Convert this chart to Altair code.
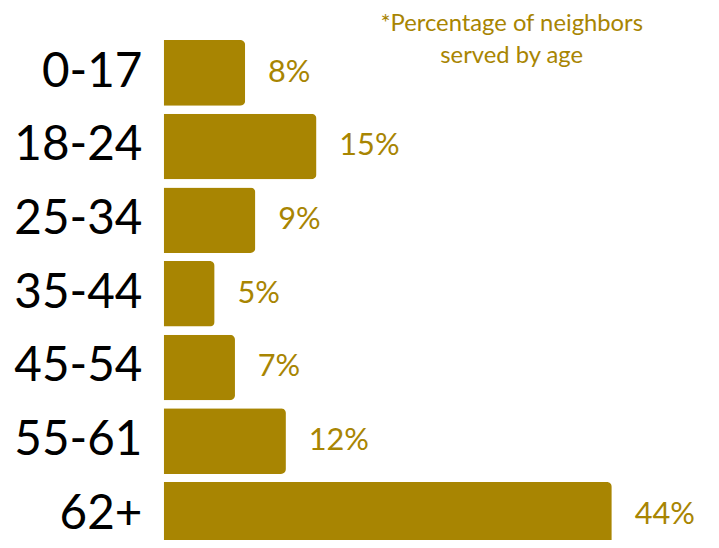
import altair as alt
import pandas as pd

ages = ["0-17", "18-24", "25-34", "35-44", "45-54", "55-61", "62+"]
percents = [8, 15, 9, 5, 7, 12, 44]
labels = [f"{p}%" for p in percents]
note = ["*Percentage of neighbors", "served by age"]

df = pd.DataFrame({"age": ages, "pct": percents, "label": labels})
gold = "#A88502"

y = alt.Y("age:N", sort=ages, title=None,
          scale=alt.Scale(paddingInner=0.11, paddingOuter=0.055, range=[0, 520]),
          axis=alt.Axis(labelFont="Lato", labelFontSize=48, labelColor="#000000",
                        labelPadding=22, ticks=False, domain=False, grid=False,
                        labelBaseline="middle"))
x = alt.X("pct:Q", title=None, scale=alt.Scale(domain=[0, 44]), axis=None)

bars = alt.Chart(df).mark_bar(color=gold, cornerRadiusEnd=5).encode(x=x, y=y)
text = alt.Chart(df).mark_text(color=gold, font="Lato", fontSize=31, align="left",
                               baseline="middle", dx=23).encode(x=x, y=y, text="label:N")
title = alt.Chart(pd.DataFrame({"t": [note]})).mark_text(
    color=gold, font="Lato", fontSize=24, align="center", baseline="alphabetic",
    lineHeight=32).encode(x=alt.value(351), y=alt.value(-5), text="t")

chart = alt.layer(bars, text, title).properties(
    width=452, height=506,
    autosize=alt.AutoSizeParams(type="none"),
    padding={"left": 157, "top": 26, "right": 100, "bottom": 0},
).configure_view(stroke=None)

chart.save("out.html", embed_options={"renderer": "svg", "actions": False})
